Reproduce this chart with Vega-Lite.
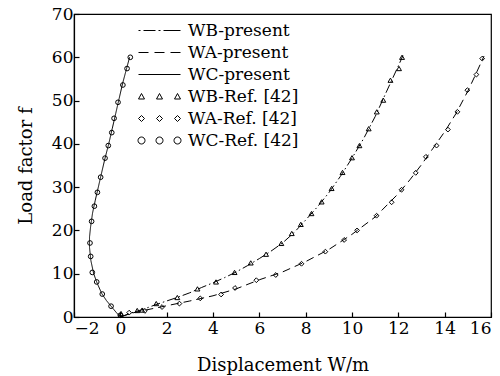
{
  "$schema": "https://vega.github.io/schema/vega-lite/v6.json",
  "width": 417,
  "height": 303,
  "autosize": "none",
  "padding": {"left": 74, "top": 14, "right": 9, "bottom": 59},
  "background": "white",
  "config": {
    "view": {"stroke": "black", "strokeWidth": 1.2},
    "font": "DejaVu Serif",
    "axis": {
      "grid": false,
      "zindex": 1,
      "domainColor": "black",
      "domainWidth": 1.2,
      "tickColor": "black",
      "tickWidth": 1.2,
      "tickSize": -5,
      "labelColor": "black",
      "titleColor": "black",
      "labelFont": "DejaVu Serif",
      "titleFont": "DejaVu Serif",
      "labelFontSize": 17,
      "titleFontSize": 18,
      "titleFontWeight": "normal"
    }
  },
  "datasets": {
    "lines": [
      {"series": "B", "i": 0, "x": 0, "y": 0},
      {"series": "B", "i": 1, "x": 0.5, "y": 1.0},
      {"series": "B", "i": 2, "x": 1.0, "y": 1.8},
      {"series": "B", "i": 3, "x": 1.5, "y": 2.8},
      {"series": "B", "i": 4, "x": 2.0, "y": 3.7},
      {"series": "B", "i": 5, "x": 2.5, "y": 4.6},
      {"series": "B", "i": 6, "x": 3.0, "y": 5.6},
      {"series": "B", "i": 7, "x": 3.5, "y": 6.8},
      {"series": "B", "i": 8, "x": 4.0, "y": 7.9},
      {"series": "B", "i": 9, "x": 4.5, "y": 9.1},
      {"series": "B", "i": 10, "x": 5.0, "y": 10.4},
      {"series": "B", "i": 11, "x": 5.5, "y": 11.9},
      {"series": "B", "i": 12, "x": 6.0, "y": 13.5},
      {"series": "B", "i": 13, "x": 6.5, "y": 15.2},
      {"series": "B", "i": 14, "x": 7.0, "y": 17.1},
      {"series": "B", "i": 15, "x": 7.5, "y": 19.5},
      {"series": "B", "i": 16, "x": 8.0, "y": 22.4},
      {"series": "B", "i": 17, "x": 8.5, "y": 25.4},
      {"series": "B", "i": 18, "x": 9.0, "y": 28.7},
      {"series": "B", "i": 19, "x": 9.5, "y": 32.5},
      {"series": "B", "i": 20, "x": 10.0, "y": 36.7},
      {"series": "B", "i": 21, "x": 10.5, "y": 41.2},
      {"series": "B", "i": 22, "x": 11.0, "y": 46.3},
      {"series": "B", "i": 23, "x": 11.5, "y": 52.2},
      {"series": "B", "i": 24, "x": 12.0, "y": 58.0},
      {"series": "B", "i": 25, "x": 12.2, "y": 60.4},
      {"series": "A", "i": 0, "x": 0, "y": 0},
      {"series": "A", "i": 1, "x": 0.5, "y": 0.9},
      {"series": "A", "i": 2, "x": 1.0, "y": 1.5},
      {"series": "A", "i": 3, "x": 2.0, "y": 2.6},
      {"series": "A", "i": 4, "x": 3.0, "y": 3.7},
      {"series": "A", "i": 5, "x": 4.0, "y": 4.9},
      {"series": "A", "i": 6, "x": 5.0, "y": 6.5},
      {"series": "A", "i": 7, "x": 6.0, "y": 8.6},
      {"series": "A", "i": 8, "x": 7.0, "y": 10.4},
      {"series": "A", "i": 9, "x": 8.0, "y": 12.8},
      {"series": "A", "i": 10, "x": 9.0, "y": 15.6},
      {"series": "A", "i": 11, "x": 10.0, "y": 19.1},
      {"series": "A", "i": 12, "x": 11.0, "y": 23.1},
      {"series": "A", "i": 13, "x": 12.0, "y": 28.5},
      {"series": "A", "i": 14, "x": 12.5, "y": 31.7},
      {"series": "A", "i": 15, "x": 13.0, "y": 35.2},
      {"series": "A", "i": 16, "x": 13.5, "y": 39.0},
      {"series": "A", "i": 17, "x": 14.0, "y": 42.8},
      {"series": "A", "i": 18, "x": 14.5, "y": 47.1},
      {"series": "A", "i": 19, "x": 15.0, "y": 52.2},
      {"series": "A", "i": 20, "x": 15.3, "y": 55.6},
      {"series": "A", "i": 21, "x": 15.7, "y": 60.3},
      {"series": "C", "i": 0, "x": 0, "y": 0},
      {"series": "C", "i": 1, "x": -0.2, "y": 1.2},
      {"series": "C", "i": 2, "x": -0.4, "y": 2.5},
      {"series": "C", "i": 3, "x": -0.6, "y": 3.8},
      {"series": "C", "i": 4, "x": -0.8, "y": 5.4},
      {"series": "C", "i": 5, "x": -1.0, "y": 7.8},
      {"series": "C", "i": 6, "x": -1.15, "y": 10.0},
      {"series": "C", "i": 7, "x": -1.27, "y": 13.0},
      {"series": "C", "i": 8, "x": -1.33, "y": 16.0},
      {"series": "C", "i": 9, "x": -1.33, "y": 18.5},
      {"series": "C", "i": 10, "x": -1.28, "y": 21.0},
      {"series": "C", "i": 11, "x": -1.2, "y": 24.0},
      {"series": "C", "i": 12, "x": -1.08, "y": 27.0},
      {"series": "C", "i": 13, "x": -0.95, "y": 30.0},
      {"series": "C", "i": 14, "x": -0.8, "y": 33.5},
      {"series": "C", "i": 15, "x": -0.66, "y": 36.7},
      {"series": "C", "i": 16, "x": -0.5, "y": 40.0},
      {"series": "C", "i": 17, "x": -0.35, "y": 43.5},
      {"series": "C", "i": 18, "x": -0.2, "y": 47.0},
      {"series": "C", "i": 19, "x": -0.05, "y": 50.5},
      {"series": "C", "i": 20, "x": 0.1, "y": 54.0},
      {"series": "C", "i": 21, "x": 0.25, "y": 57.0},
      {"series": "C", "i": 22, "x": 0.4, "y": 60.0}
    ],
    "refs": [
      {"series": "B", "x": 0.03, "y": 0.8},
      {"series": "B", "x": 0.73, "y": 1.5},
      {"series": "B", "x": 0.94, "y": 1.6},
      {"series": "B", "x": 1.55, "y": 3.1},
      {"series": "B", "x": 2.46, "y": 4.5},
      {"series": "B", "x": 3.33, "y": 6.5},
      {"series": "B", "x": 4.13, "y": 8.1},
      {"series": "B", "x": 4.93, "y": 10.3},
      {"series": "B", "x": 5.63, "y": 12.5},
      {"series": "B", "x": 6.29, "y": 14.5},
      {"series": "B", "x": 6.95, "y": 17.0},
      {"series": "B", "x": 7.4, "y": 19.3},
      {"series": "B", "x": 7.79, "y": 21.4},
      {"series": "B", "x": 8.25, "y": 23.9},
      {"series": "B", "x": 8.69, "y": 26.6},
      {"series": "B", "x": 9.12, "y": 29.7},
      {"series": "B", "x": 9.59, "y": 33.4},
      {"series": "B", "x": 10.0, "y": 36.8},
      {"series": "B", "x": 10.32, "y": 39.6},
      {"series": "B", "x": 10.72, "y": 43.5},
      {"series": "B", "x": 11.07, "y": 47.4},
      {"series": "B", "x": 11.35, "y": 50.1},
      {"series": "B", "x": 11.66, "y": 54.7},
      {"series": "B", "x": 12.03, "y": 57.4},
      {"series": "B", "x": 12.16, "y": 60.0},
      {"series": "A", "x": 0.38, "y": 1.0},
      {"series": "A", "x": 1.06, "y": 1.4},
      {"series": "A", "x": 1.8, "y": 2.3},
      {"series": "A", "x": 2.55, "y": 3.1},
      {"series": "A", "x": 3.45, "y": 4.3},
      {"series": "A", "x": 4.35, "y": 5.2},
      {"series": "A", "x": 4.95, "y": 6.7},
      {"series": "A", "x": 5.87, "y": 8.5},
      {"series": "A", "x": 6.71, "y": 9.7},
      {"series": "A", "x": 7.82, "y": 12.3},
      {"series": "A", "x": 8.85, "y": 15.1},
      {"series": "A", "x": 9.66, "y": 17.8},
      {"series": "A", "x": 10.22, "y": 20.0},
      {"series": "A", "x": 11.06, "y": 23.4},
      {"series": "A", "x": 11.71, "y": 26.5},
      {"series": "A", "x": 12.14, "y": 29.4},
      {"series": "A", "x": 12.75, "y": 33.3},
      {"series": "A", "x": 13.19, "y": 37.0},
      {"series": "A", "x": 13.65, "y": 39.6},
      {"series": "A", "x": 14.14, "y": 43.3},
      {"series": "A", "x": 14.55, "y": 47.4},
      {"series": "A", "x": 14.98, "y": 52.4},
      {"series": "A", "x": 15.37, "y": 56.0},
      {"series": "A", "x": 15.62, "y": 59.7},
      {"series": "C", "x": 0.0, "y": 0.4},
      {"series": "C", "x": -0.4, "y": 2.5},
      {"series": "C", "x": -0.78, "y": 5.3},
      {"series": "C", "x": -1.02, "y": 8.1},
      {"series": "C", "x": -1.21, "y": 10.3},
      {"series": "C", "x": -1.28, "y": 14.0},
      {"series": "C", "x": -1.31, "y": 17.1},
      {"series": "C", "x": -1.24, "y": 22.1},
      {"series": "C", "x": -1.12, "y": 25.6},
      {"series": "C", "x": -0.99, "y": 28.8},
      {"series": "C", "x": -0.85, "y": 32.3},
      {"series": "C", "x": -0.66, "y": 36.7},
      {"series": "C", "x": -0.52, "y": 39.6},
      {"series": "C", "x": -0.37, "y": 42.6},
      {"series": "C", "x": -0.27, "y": 45.9},
      {"series": "C", "x": -0.1, "y": 49.6},
      {"series": "C", "x": 0.11, "y": 53.6},
      {"series": "C", "x": 0.29, "y": 57.4},
      {"series": "C", "x": 0.43, "y": 60.0}
    ]
  },
  "resolve": {"scale": {"shape": "independent", "size": "independent", "strokeDash": "independent"}, "legend": {"shape": "independent"}},
  "layer": [
    {
      "data": {"name": "lines"},
      "mark": {"type": "line", "color": "black", "strokeWidth": 1},
      "encoding": {
        "x": {
          "field": "x", "type": "quantitative",
          "scale": {"domain": [-2, 16], "nice": false},
          "axis": {"values": [-2, 0, 2, 4, 6, 8, 10, 12, 14, 16], "title": "Displacement W/m", "labelPadding": 8, "titlePadding": 20}
        },
        "y": {
          "field": "y", "type": "quantitative",
          "scale": {"domain": [0, 70], "nice": false},
          "axis": {"values": [0, 10, 20, 30, 40, 50, 60, 70], "title": "Load factor f", "labelPadding": 6, "titlePadding": 16}
        },
        "strokeDash": {
          "field": "series", "type": "nominal",
          "scale": {"domain": ["B", "A", "C"], "range": [[9, 3, 1.5, 3], [8, 5], [1, 0]]},
          "legend": null
        },
        "order": {"field": "i", "type": "quantitative"}
      }
    },
    {
      "data": {"name": "refs"},
      "mark": {"type": "point", "filled": false, "color": "black", "strokeWidth": 1, "opacity": 1},
      "encoding": {
        "x": {"field": "x", "type": "quantitative"},
        "y": {"field": "y", "type": "quantitative"},
        "shape": {
          "field": "series", "type": "nominal",
          "scale": {"domain": ["B", "A", "C"], "range": ["triangle-up", "diamond", "circle"]},
          "legend": null
        },
        "size": {
          "field": "series", "type": "nominal",
          "scale": {"domain": ["B", "A", "C"], "range": [24, 22, 38]},
          "legend": null
        }
      }
    },
    {
      "data": {"values": []},
      "mark": {"type": "point", "filled": false, "color": "black", "strokeWidth": 1, "opacity": 1},
      "encoding": {
        "shape": {
          "field": "item", "type": "nominal",
          "scale": {
            "domain": ["WB-present", "WA-present", "WC-present", "WB-Ref. [42]", "WA-Ref. [42]", "WC-Ref. [42]"],
            "range": [
              "M-4.2,0H-3.8M-3.2,0H-0.8M-0.2,0H0.2M0.8,0H4.2",
              "M-4.2,0H-2.2M-1,0H1M2.2,0H4.2",
              "M-4.2,0H4.2",
              "M-4.2,0.5L-3.6,-0.6L-3,0.5ZM-0.6,0.5L0,-0.6L0.6,0.5ZM3,0.5L3.6,-0.6L4.2,0.5Z",
              "M-3.6,-0.6L-3,0L-3.6,0.6L-4.2,0ZM0,-0.6L0.6,0L0,0.6L-0.6,0ZM3.6,-0.6L4.2,0L3.6,0.6L3,0Z",
              "M-4.3,0A0.7,0.7,0,1,0,-2.9,0A0.7,0.7,0,1,0,-4.3,0ZM-0.7,0A0.7,0.7,0,1,0,0.7,0A0.7,0.7,0,1,0,-0.7,0ZM2.9,0A0.7,0.7,0,1,0,4.3,0A0.7,0.7,0,1,0,2.9,0Z"
            ]
          },
          "legend": {
            "orient": "none",
            "legendX": 77,
            "legendY": 8,
            "title": null,
            "padding": 0,
            "labelFont": "DejaVu Serif",
            "labelFontSize": 17,
            "labelColor": "black",
            "labelOffset": 20,
            "symbolSize": 100,
            "symbolStrokeWidth": 1,
            "symbolStrokeColor": "black",
            "symbolFillColor": "transparent",
            "symbolOpacity": 1,
            "rowPadding": 4,
            "labelLimit": 300
          }
        }
      }
    }
  ]
}
